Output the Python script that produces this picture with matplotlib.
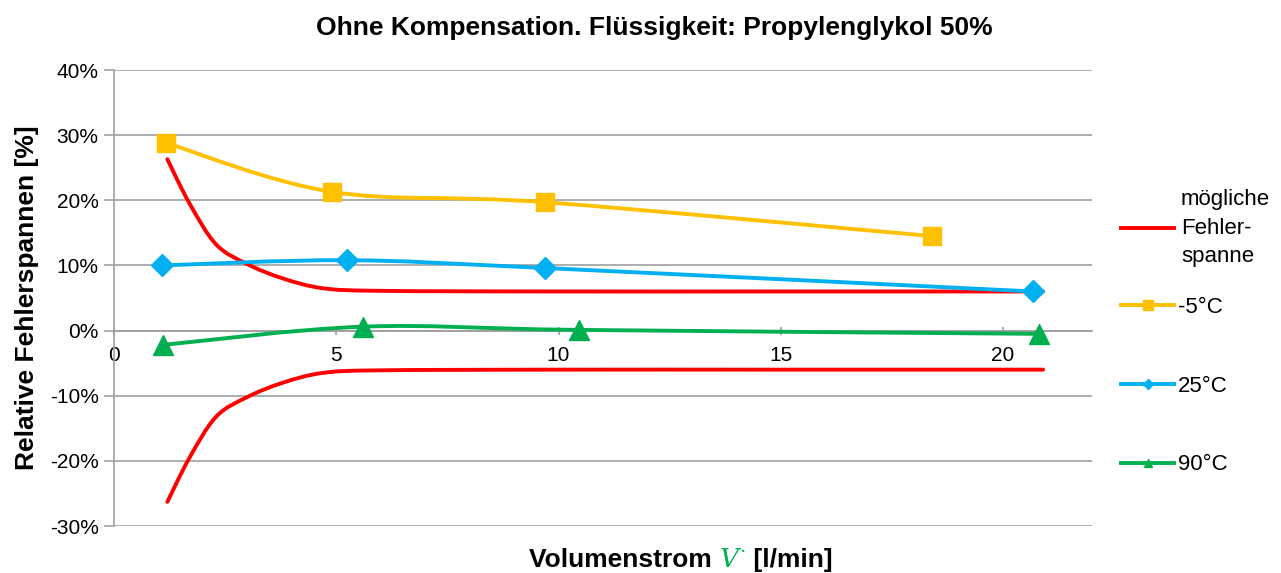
import numpy as np
import matplotlib
matplotlib.use("Agg")
import matplotlib.pyplot as plt
from matplotlib.path import Path
from matplotlib.patches import PathPatch
from matplotlib.lines import Line2D
from matplotlib.ticker import PercentFormatter

plt.rcParams['font.family'] = ['Liberation Sans', 'DejaVu Sans']
plt.rcParams['mathtext.fontset'] = 'dejavuserif'
plt.rcParams['axes.unicode_minus'] = False

# mögliche Fehlerspanne (obere Grenze, untere = gespiegelt)
x_fs = [1.2, 1.7, 2.3, 3.0, 3.8, 4.7, 6.0, 10.0, 15.0, 20.9]
y_fs = [0.263, 0.195, 0.132, 0.102, 0.080, 0.065, 0.061, 0.060, 0.060, 0.060]

x_m5 = [1.17, 4.9, 9.7, 18.4]
y_m5 = [0.288, 0.213, 0.197, 0.145]

x_25 = [1.08, 5.24, 9.7, 20.67]
y_25 = [0.100, 0.108, 0.096, 0.060]

x_90 = [1.1, 5.6, 10.46, 20.8]
y_90 = [-0.022, 0.006, 0.001, -0.005]

col_fs = '#FF0000'
col_m5 = '#FFC000'
col_25 = '#00B0F0'
col_90 = '#00B050'
lw = 2.8


# Glatte Linie wie in Excel (Bezier durch die Punkte)
def smooth_path(xs, ys):
    pts = np.column_stack([xs, ys])
    n = len(pts)
    verts = [pts[0]]
    codes = [Path.MOVETO]
    for i in range(n - 1):
        p0 = pts[i - 1] if i > 0 else pts[i]
        p1 = pts[i]
        p2 = pts[i + 1]
        p3 = pts[i + 2] if i + 2 < n else pts[i + 1]
        verts += [p1 + (p2 - p0) / 6, p2 - (p3 - p1) / 6, p2]
        codes += [Path.CURVE4] * 3
    return Path(verts, codes)


def add_smooth(ax, xs, ys, color):
    patch = PathPatch(smooth_path(xs, ys), fill=False, edgecolor=color, lw=lw,
                      capstyle='round', joinstyle='round', zorder=3)
    ax.add_patch(patch)


fig = plt.figure(figsize=(12.81, 5.73), dpi=100)
ax = fig.add_axes([114 / 1281, 1 - 526 / 573, (1092 - 114) / 1281, (526 - 70) / 573])

add_smooth(ax, x_fs, y_fs, col_fs)
add_smooth(ax, x_fs, [-v for v in y_fs], col_fs)

add_smooth(ax, x_m5, y_m5, col_m5)
ax.plot(x_m5, y_m5, ls='none', marker='s', ms=13, color=col_m5, zorder=4)
add_smooth(ax, x_25, y_25, col_25)
ax.plot(x_25, y_25, ls='none', marker='D', ms=11, color=col_25, zorder=4)
add_smooth(ax, x_90, y_90, col_90)
ax.plot(x_90, y_90, ls='none', marker='^', ms=14, color=col_90, zorder=4)

ax.set_xlim(0, 22)
ax.set_ylim(-0.3, 0.4)
ax.set_xticks([0, 5, 10, 15, 20])
ax.set_yticks(np.arange(-0.3, 0.41, 0.1))
ax.yaxis.set_major_formatter(PercentFormatter(1.0, decimals=0))
ax.grid(axis='y', color='#A0A0A0', lw=1.2)
ax.set_axisbelow(True)

for s in ['top', 'right']:
    ax.spines[s].set_visible(False)
ax.spines['bottom'].set_position(('data', 0))
ax.spines['bottom'].set_color('#A0A0A0')
ax.spines['left'].set_color('#A0A0A0')
ax.spines['bottom'].set_linewidth(1.2)
ax.spines['left'].set_linewidth(1.2)
ax.tick_params(axis='y', direction='out', length=7, color='#A0A0A0', width=1.2, labelsize=15, pad=4)
ax.tick_params(axis='x', direction='inout', length=6, color='#A0A0A0', width=1.2, labelsize=15, pad=8)

fig.text(654 / 1281, 1 - 28 / 573, 'Ohne Kompensation. Flüssigkeit: Propylenglykol 50%',
         ha='center', va='center', fontsize=19, fontweight='bold')
ax.set_ylabel('Relative Fehlerspannen [%]', fontsize=19, fontweight='bold', labelpad=8)

# x-Achsentitel aus drei Teilen
fig.canvas.draw()
r = fig.canvas.get_renderer()
y_lab = 1 - 560 / 573
t1 = fig.text(529 / 1281, y_lab, 'Volumenstrom ', fontsize=19, fontweight='bold', va='center')
bb = t1.get_window_extent(r)
t2 = fig.text(bb.x1 / 1281, y_lab, r'$V^{\cdot}$', fontsize=19, color=col_90, va='center')
bb = t2.get_window_extent(r)
fig.text(bb.x1 / 1281, y_lab, ' [l/min]', fontsize=19, fontweight='bold', va='center')

# Legende
h_fs = [Line2D([], [], color=col_fs, lw=lw)]
leg1 = fig.legend(h_fs, ['mögliche\nFehler-\nspanne'], loc='center left',
                  bbox_to_anchor=(1121 / 1281, 1 - 228 / 573), frameon=False,
                  borderpad=0, borderaxespad=0, handlelength=2.4, handletextpad=0.3,
                  fontsize=16)
leg1.get_texts()[0].set_linespacing(1.45)
h_s = [Line2D([], [], color=col_m5, lw=lw, marker='s', ms=7),
       Line2D([], [], color=col_25, lw=lw, marker='D', ms=5),
       Line2D([], [], color=col_90, lw=lw, marker='^', ms=6)]
fig.legend(h_s, ['-5°C', '25°C', '90°C'], loc='center left',
           bbox_to_anchor=(1121 / 1281, 1 - 386 / 573), frameon=False,
           borderpad=0, borderaxespad=0, handlelength=2.4, handletextpad=0.15,
           labelspacing=2.6, fontsize=16)

fig.savefig('out.png', dpi=100)
